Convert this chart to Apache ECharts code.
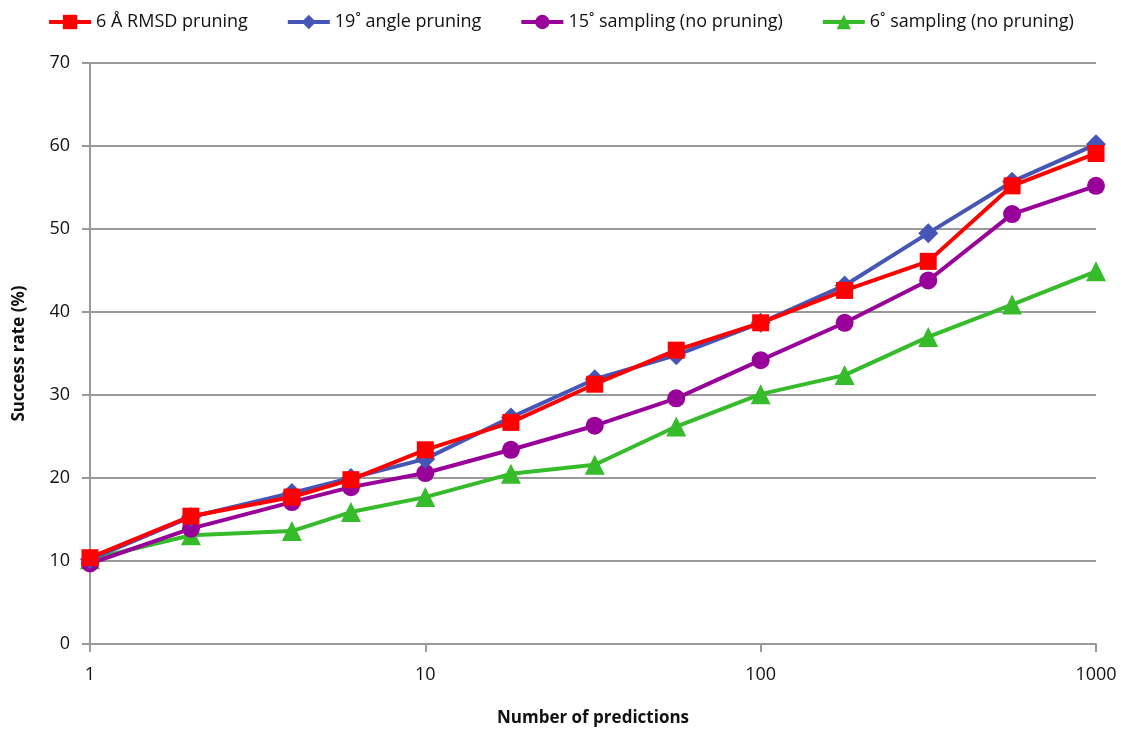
<!DOCTYPE html>
<html>
<head>
<meta charset="utf-8">
<script src="https://cdn.jsdelivr.net/npm/echarts@6/dist/echarts.min.js"></script>
<style>
  html, body { margin: 0; padding: 0; background: #fff; }
  #chart { width: 1121px; height: 735px; }
</style>
</head>
<body>
<div id="chart"></div>
<script>
// number of predictions (log x axis)
const predictions = [1, 2, 4, 6, 10, 18, 32, 56, 100, 178, 316, 562, 1000];

// success rate (%) per method
const rmsdPruning = [10.4, 15.4, 17.7, 19.8, 23.4, 26.7, 31.3, 35.4, 38.7, 42.6, 46.1, 55.2, 59.1];
const anglePruning = [10.2, 15.3, 18.2, 20.0, 22.3, 27.3, 31.9, 34.8, 38.7, 43.2, 49.5, 55.7, 60.2];
const sampling15 = [9.7, 13.9, 17.1, 18.9, 20.6, 23.4, 26.3, 29.6, 34.2, 38.7, 43.8, 51.8, 55.2];
const sampling6 = [10.2, 13.1, 13.6, 15.9, 17.7, 20.5, 21.6, 26.2, 30.1, 32.4, 37.0, 40.9, 44.9];

const seriesNames = ['6 Å RMSD pruning', '19˚ angle pruning', '15˚ sampling (no pruning)', '6˚ sampling (no pruning)'];
const seriesColors = ['#ff0000', '#4556b6', '#990099', '#36bb2a'];
const seriesSymbols = ['rect', 'diamond', 'circle', 'triangle'];
const symbolSizes = [17, 20, 18, 20];
const seriesValues = [rmsdPruning, anglePruning, sampling15, sampling6];

const font = '"Open Sans", "Liberation Sans", sans-serif';
const gray = '#9a9a9a';

const chart = echarts.init(document.getElementById('chart'));

const series = seriesNames.map((name, i) => ({
    name: name,
    type: 'line',
    data: predictions.map((x, j) => [x, seriesValues[i][j]]),
    symbol: seriesSymbols[i],
    symbolSize: symbolSizes[i],
    showAllSymbol: true,
    lineStyle: { color: seriesColors[i], width: 4 },
    itemStyle: { color: seriesColors[i] },
    z: 10 - i
}));

chart.setOption({
    animation: false,
    color: seriesColors,
    textStyle: { fontFamily: font },
    legend: {
        top: 8,
        left: 'center',
        itemWidth: 42,
        itemHeight: 18,
        itemGap: 38,
        lineStyle: { width: 4 },
        textStyle: { fontSize: 18, color: '#111', fontFamily: font }
    },
    grid: { left: 90, right: 25, top: 63, bottom: 91, containLabel: false },
    xAxis: {
        type: 'log',
        logBase: 10,
        min: 1,
        max: 1000,
        name: 'Number of predictions',
        nameLocation: 'middle',
        nameGap: 66,
        nameTextStyle: { fontSize: 17, fontWeight: 'bold', color: '#111', fontFamily: font },
        axisLine: { lineStyle: { color: gray, width: 2 } },
        axisTick: { show: true, length: 8, lineStyle: { color: gray, width: 2 } },
        axisLabel: {
            fontSize: 18, color: '#111', margin: 22, fontFamily: font,
            formatter: v => String(Math.round(v))
        },
        splitLine: { show: false },
        minorTick: { show: false }
    },
    yAxis: {
        type: 'value',
        min: 0,
        max: 70,
        interval: 10,
        name: 'Success rate (%)',
        nameLocation: 'middle',
        nameGap: 62,
        nameTextStyle: { fontSize: 17, fontWeight: 'bold', color: '#111', fontFamily: font },
        axisLine: { show: true, lineStyle: { color: gray, width: 2 } },
        axisTick: { show: true, length: 8, lineStyle: { color: gray, width: 2 } },
        axisLabel: { fontSize: 18, color: '#111', margin: 20, fontFamily: font },
        splitLine: { show: true, lineStyle: { color: gray, width: 2 } }
    },
    series: series
});
</script>
</body>
</html>
